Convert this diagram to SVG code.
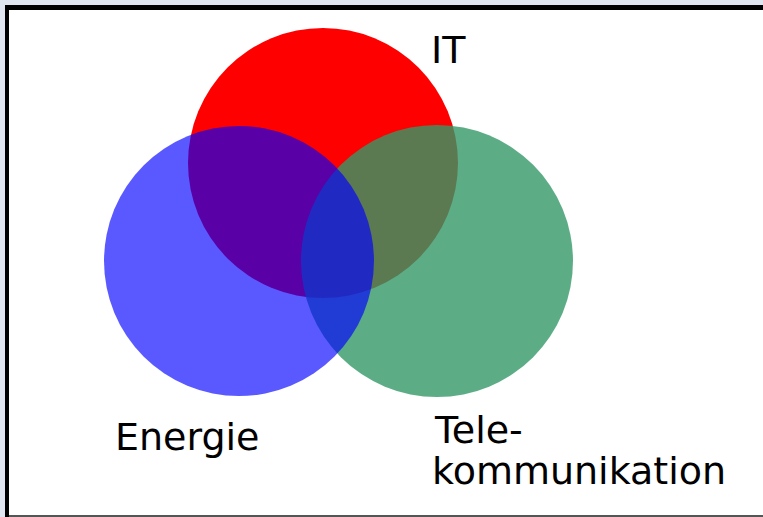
<svg xmlns="http://www.w3.org/2000/svg" width="763" height="517" viewBox="0 0 763 517">
<style>
.lbl{font-family:"DejaVu Sans","Liberation Sans",sans-serif;font-size:38px;fill:#000}
</style>
<rect x="0" y="0" width="763" height="517" fill="#e0e6ef"/>
<rect x="5" y="5" width="758" height="512" fill="#000"/>
<rect x="9" y="10" width="754" height="505" fill="#fff"/>
<rect x="9" y="515" width="754" height="2" fill="#555"/>
<g id="it"><circle cx="323" cy="163" r="135" fill="#ff0000"/></g>
<g id="tele"><circle cx="437" cy="261" r="136" fill="#339966" fill-opacity="0.8"/></g>
<g id="energie"><circle cx="239" cy="261" r="135" fill="#0000ff" fill-opacity="0.65"/></g>
<g id="labels">
<text class="lbl" x="431" y="63">IT</text>
<text class="lbl" x="115" y="450">Energie</text>
<text class="lbl" x="435" y="443">Tele-</text>
<text class="lbl" x="432" y="484">kommunikation</text>
</g>
<g id="connectors"/>
</svg>
